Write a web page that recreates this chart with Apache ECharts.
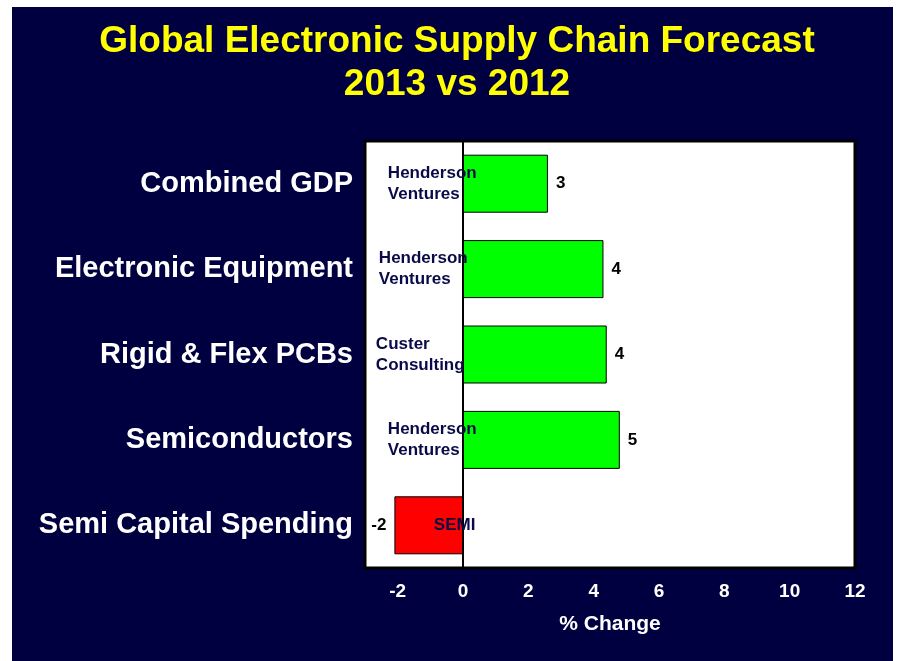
<!DOCTYPE html>
<html>
<head>
<meta charset="utf-8">
<script src="https://cdn.jsdelivr.net/npm/echarts@6/dist/echarts.min.js"></script>
<style>
  html, body { margin: 0; padding: 0; background: #fff; }
  #chart { position: absolute; left: 12px; top: 7px; width: 881px; height: 654px; }
</style>
</head>
<body>
<div id="chart"></div>
<script>
// categories top to bottom
var categories = ['Combined GDP', 'Electronic Equipment', 'Rigid & Flex PCBs', 'Semiconductors', 'Semi Capital Spending'];
// forecast % change 2013 vs 2012
var values = [2.6, 4.3, 4.4, 4.8, -2.1];
// who made the forecast
var sources = ['Henderson\nVentures', 'Henderson\nVentures', 'Custer\nConsulting', 'Henderson\nVentures', 'SEMI'];
var xTicks = [-2, 0, 2, 4, 6, 8, 10, 12];

var font = 'Liberation Sans, Arial, sans-serif';
var srcShift = [0, -9, -12, 0, 46]; // nudges for the source notes

var chart = echarts.init(document.getElementById('chart'));

chart.setOption({
  backgroundColor: '#000040',
  animation: false,
  title: {
    text: 'Global Electronic Supply Chain Forecast\n2013 vs 2012',
    left: 445,
    top: 13,
    padding: 0,
    textAlign: 'center',
    textStyle: {
      color: '#ffff00',
      fontFamily: font,
      fontWeight: 'bold',
      fontSize: 37,
      lineHeight: 43
    }
  },
  grid: {
    left: 353,
    right: 38,
    top: 134,
    bottom: 93,
    show: true,
    backgroundColor: '#ffffff',
    borderColor: '#000000',
    borderWidth: 3
  },
  xAxis: {
    type: 'value',
    min: -3,
    max: 12,
    interval: 1,
    splitLine: { show: false },
    axisTick: { show: false },
    axisLine: { show: false },
    axisLabel: {
      margin: 14,
      color: '#ffffff',
      fontFamily: font,
      fontWeight: 'bold',
      fontSize: 19,
      showMaxLabel: true,
      formatter: function (v) {
        return xTicks.indexOf(v) >= 0 ? String(v) : '';
      }
    },
    name: '% Change',
    nameLocation: 'middle',
    nameGap: 46,
    nameTextStyle: {
      color: '#ffffff',
      fontFamily: font,
      fontWeight: 'bold',
      fontSize: 21
    }
  },
  yAxis: {
    type: 'category',
    data: categories,
    inverse: true,
    axisLine: { show: false, onZero: false },
    axisTick: { show: false },
    axisLabel: {
      margin: 12,
      color: '#ffffff',
      fontFamily: font,
      fontWeight: 'bold',
      fontSize: 29
    }
  },
  series: [
    {
      type: 'bar',
      barWidth: 58,
      data: values.map(function (v) {
        return {
          value: v,
          itemStyle: { color: v < 0 ? '#ff0000' : '#00ff00' },
          label: { position: v < 0 ? 'left' : 'right' }
        };
      }),
      itemStyle: { borderColor: '#000000', borderWidth: 1 },
      label: {
        show: true,
        distance: 8,
        color: '#000000',
        fontFamily: font,
        fontWeight: 'bold',
        fontSize: 17,
        formatter: function (p) { return String(Math.round(p.value)); }
      },
      markLine: {
        silent: true,
        symbol: 'none',
        label: { show: false },
        lineStyle: { color: '#000000', width: 2, type: 'solid' },
        data: [{ xAxis: 0 }]
      }
    },
    {
      type: 'scatter',
      symbolSize: 0,
      itemStyle: { opacity: 1 },
      data: categories.map(function (c, i) {
        return {
          value: [-2.3, c],
          label: { offset: [srcShift[i], 0] }
        };
      }),
      label: {
        show: true,
        position: 'right',
        distance: 0,
        align: 'left',
        color: '#0a0a48',
        opacity: 1,
        fontFamily: font,
        fontWeight: 'bold',
        fontSize: 17,
        lineHeight: 21,
        formatter: function (p) { return sources[p.dataIndex]; }
      },
      z: 5
    }
  ]
});
</script>
</body>
</html>
